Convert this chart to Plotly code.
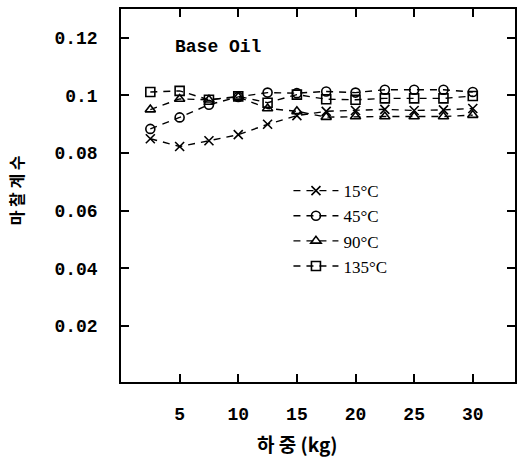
import plotly.graph_objects as go

load_kg = [2.5, 5, 7.5, 10, 12.5, 15, 17.5, 20, 22.5, 25, 27.5, 30]
mu_15C = [0.0850, 0.0823, 0.0843, 0.0864, 0.0900, 0.0930, 0.0945, 0.0948, 0.0952, 0.0948, 0.0950, 0.0955]
mu_45C = [0.0884, 0.0924, 0.0968, 0.0995, 0.1010, 0.1008, 0.1014, 0.1010, 0.1020, 0.1020, 0.1020, 0.1012]
mu_90C = [0.0951, 0.0988, 0.0985, 0.0995, 0.0955, 0.0945, 0.0925, 0.0927, 0.0927, 0.0927, 0.0927, 0.0932]
mu_135C = [0.1012, 0.1016, 0.0985, 0.0997, 0.0975, 0.1003, 0.0987, 0.0985, 0.0990, 0.0990, 0.0990, 0.0998]

series_names = ["15°C", "45°C", "90°C", "135°C"]
series_vals = [mu_15C, mu_45C, mu_90C, mu_135C]
symbols = ["x-thin-open", "circle-open", "triangle-up-open", "square-open"]

y_tickvals = [0.02, 0.04, 0.06, 0.08, 0.1, 0.12]
y_ticktext = ["0.02", "0.04", "0.06", "0.08", "0.1", "0.12"]
x_tickvals = [5, 10, 15, 20, 25, 30]

fig = go.Figure()
for name, vals, sym in zip(series_names, series_vals, symbols):
    fig.add_trace(go.Scatter(
        x=load_kg, y=vals, name=name, mode="lines+markers",
        line=dict(color="black", width=1.4, dash="7px,6px"),
        marker=dict(symbol=sym, size=9, color="black",
                    line=dict(color="black", width=1.6)),
    ))

tickfont = dict(family="Liberation Mono", size=18, color="black", weight="bold")
fig.update_layout(
    width=519, height=468,
    margin=dict(l=121, r=2, t=9, b=86),
    paper_bgcolor="white", plot_bgcolor="white",
    showlegend=True,
    legend=dict(x=0.425, y=0.56, xanchor="left", yanchor="top",
                itemwidth=45,
                bgcolor="rgba(0,0,0,0)", borderwidth=0,
                font=dict(family="Liberation Serif", size=17, color="black")),
    xaxis=dict(range=[0, 33.6], tickvals=x_tickvals, ticks="inside", ticklen=8,
               tickwidth=1.5, tickcolor="black", showline=True, linecolor="black",
               linewidth=1.5, mirror="ticks", showgrid=False, zeroline=False,
               tickfont=tickfont, ticklabelstandoff=15),
    yaxis=dict(range=[0.0006, 0.13], tickvals=y_tickvals, ticktext=y_ticktext,
               ticks="inside", ticklen=8, tickwidth=1.5, tickcolor="black",
               showline=True, linecolor="black", linewidth=1.5, mirror="ticks",
               showgrid=False, zeroline=False, tickfont=tickfont,
               ticklabelstandoff=18),
    annotations=[
        dict(text="Base Oil", xref="paper", yref="paper", x=0.247, y=0.898,
             showarrow=False, xanchor="center", yanchor="middle",
             font=dict(family="Liberation Mono", size=18, color="black", weight="bold")),
        dict(text="하 중 (kg)", xref="paper", yref="paper", x=0.447, y=-0.165,
             showarrow=False, xanchor="center", yanchor="middle",
             font=dict(family="Noto Sans CJK KR", size=19, color="black", weight="bold")),
        dict(text="마 찰 계 수", xref="paper", yref="paper", x=-0.268, y=0.515,
             showarrow=False, xanchor="center", yanchor="middle", textangle=-90,
             font=dict(family="Noto Sans CJK KR", size=16, color="black", weight="bold")),
    ],
)

fig.write_html("out.html")
